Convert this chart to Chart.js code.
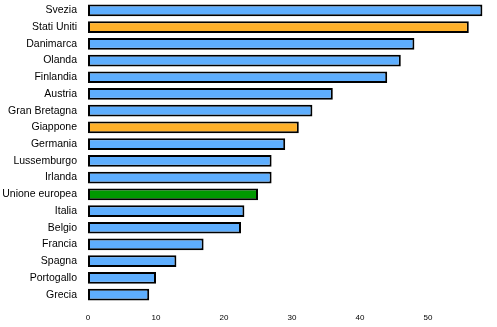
<!DOCTYPE html>
<html>
<head>
<meta charset="utf-8">
<script src="https://cdn.jsdelivr.net/npm/chart.js@4/dist/chart.umd.min.js"></script>
<style>
  body { margin: 0; background: #fff; }
  #wrap { width: 497px; height: 327px; }
</style>
</head>
<body>
<div id="wrap"><canvas id="barChart" width="497" height="327"></canvas></div>
<script>
const countries = ['Svezia', 'Stati Uniti', 'Danimarca', 'Olanda', 'Finlandia', 'Austria',
  'Gran Bretagna', 'Giappone', 'Germania', 'Lussemburgo', 'Irlanda', 'Unione europea',
  'Italia', 'Belgio', 'Francia', 'Spagna', 'Portogallo', 'Grecia'];
const values = [58, 56, 48, 46, 44, 36, 33, 31, 29, 27, 27, 25, 23, 22.5, 17, 13, 10, 9];
const xTicks = [0, 10, 20, 30, 40, 50];

const blue = '#5eaefe';
const orange = '#ffb12b';
const green = '#009900';

function barColor(name) {
  if (name === 'Stati Uniti' || name === 'Giappone') return orange;
  if (name === 'Unione europea') return green;
  return blue;
}

const ctx = document.getElementById('barChart').getContext('2d');
new Chart(ctx, {
  type: 'bar',
  data: {
    labels: countries,
    datasets: [{
      data: values,
      backgroundColor: countries.map(barColor),
      borderColor: '#000',
      borderWidth: 2,
      borderSkipped: false,
      categoryPercentage: 0.7,
      barPercentage: 1
    }]
  },
  options: {
    indexAxis: 'y',
    responsive: false,
    animation: false,
    layout: { padding: { top: 2, right: 1, left: 0, bottom: 0 } },
    plugins: { legend: { display: false }, tooltip: { enabled: false } },
    scales: {
      x: {
        min: 0,
        max: 60,
        grid: { display: false, drawTicks: false },
        border: { display: false },
        ticks: {
          stepSize: 10,
          padding: 10,
          color: '#000',
          font: { family: 'Liberation Sans', size: 8 },
          callback: v => xTicks.includes(v) ? String(v) : ''
        },
        // keep the plot area fixed, no extra room for edge labels
        afterFit: s => { s.height = 24; s.paddingRight = 0; s.paddingLeft = 0; }
      },
      y: {
        grid: { display: false, drawTicks: false },
        border: { display: false },
        ticks: {
          autoSkip: false,
          padding: 11,
          color: '#000',
          font: { family: 'Liberation Sans', size: 10.5 }
        },
        afterFit: s => { s.width = 88; s.paddingTop = 0; s.paddingBottom = 0; }
      }
    }
  }
});
</script>
</body>
</html>
